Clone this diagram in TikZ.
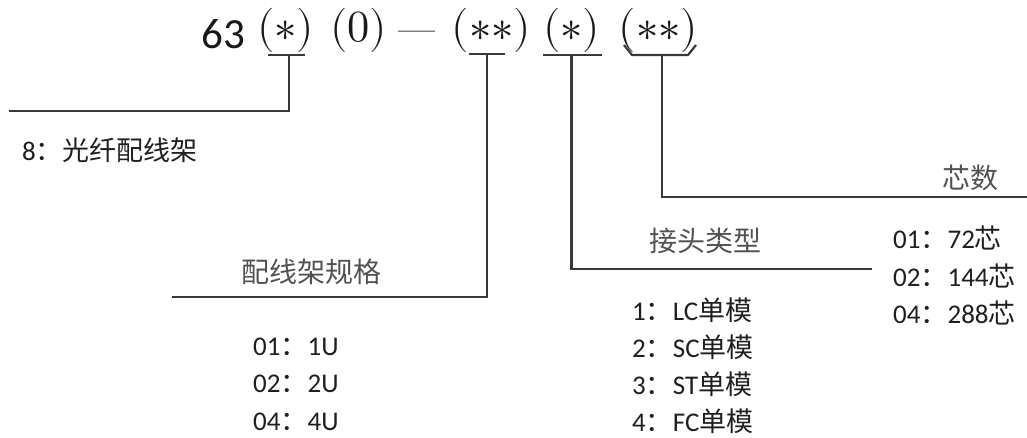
\documentclass[tikz,border=0pt]{standalone}
\usepackage[no-math]{fontspec}
\setmainfont{Carlito}
\newfontfamily\cjk{Noto Sans CJK SC}
\newfontfamily\lmm{Latin Modern Math}
\usetikzlibrary{positioning}
\newcommand{\zh}[1]{{\cjk #1}}

\begin{document}
\begin{tikzpicture}[
    x=1pt, y=-1pt,
    line/.style={draw=black!78, line width=2.2pt},
    code/.style={inner sep=0pt, font=\fontsize{44.5}{44.5}\selectfont\lmm, text=black!90},
    head/.style={inner sep=0pt, font=\fontsize{28}{30}\selectfont\cjk, text=black!68},
    opt/.style={inner sep=0pt, anchor=west, font=\fontsize{27}{30}\selectfont, text=black!88},
]
\useasboundingbox (0,0) rectangle (1027,437);

% model code
\node[code, anchor=base, font=\fontsize{43}{43}\selectfont] (num) at (223.5,48) {63};
\node[code] (p1) at (285.5,30.5) {(∗)};
\node[code] (p2) at (358.5,30.5) {(0)};
\node[code, font=\fontsize{37}{37}\selectfont\lmm] (dsh) at (416.5,36) {—};
\node[code] (p3) at (491.5,30.5) {(∗∗)};
\node[code] (p4) at (571.5,30.5) {(∗)};
\node[code] (p5) at (658.5,30.5) {(∗∗)};

% brackets under the code
\coordinate (b1a) at (268,55);
\coordinate (b1b) at (305,55);
\coordinate (b2a) at (469,54);
\coordinate (b2b) at (505,54);
\coordinate (b3a) at (543,55);
\coordinate (b3b) at (602,55);
\coordinate (b4a) at (624,45);
\coordinate (b4b) at (632,55);
\coordinate (b4c) at (688,55);
\coordinate (b4d) at (696,45);
\draw[line] (b1a) -- (b1b);
\draw[line] (b2a) -- (b2b);
\draw[line] (b3a) -- (b3b);
\draw[line] (b4a) -- (b4b) -- (b4c) -- (b4d);

% leader lines
\coordinate (t1) at (289,55);
\coordinate (k1) at (289,111);
\coordinate (e1) at (9,111);
\coordinate (t2) at (487,54);
\coordinate (k2) at (487,297);
\coordinate (e2) at (172,297);
\coordinate (t3) at (571.5,55);
\coordinate (k3) at (571.5,269);
\coordinate (e3) at (872,269);
\coordinate (t4) at (662,55);
\coordinate (k4) at (662,197);
\coordinate (e4) at (1027,197);
\draw[line] (t1) -- (k1) -- (e1);
\draw[line] (t2) -- (k2) -- (e2);
\draw[line] (t3) -- (k3) -- (e3);
\draw[line] (t4) -- (k4) -- (e4);

% type
\node[opt] (type) at (22,150) {8\zh{：光纤配线架}};

% rack size
\node[head] (size) at (311.5,272) {配线架规格};
\node[opt] (s1) at (253,346.5) {01\zh{：}1U};
\node[opt, below=37.5pt of s1.west, anchor=west] (s2) {02\zh{：}2U};
\node[opt, below=37.5pt of s2.west, anchor=west] (s3) {04\zh{：}4U};

% connector type
\node[head] (conn) at (705.5,241) {接头类型};
\node[opt] (c1) at (632,310) {1\zh{：}LC\zh{单模}};
\node[opt, below=37pt of c1.west, anchor=west] (c2) {2\zh{：}SC\zh{单模}};
\node[opt, below=37pt of c2.west, anchor=west] (c3) {3\zh{：}ST\zh{单模}};
\node[opt, below=37pt of c3.west, anchor=west] (c4) {4\zh{：}FC\zh{单模}};

% fibre count
\node[head] (core) at (970,178) {芯数};
\node[opt] (n1) at (893,238) {01\zh{：}72\zh{芯}};
\node[opt, below=37.5pt of n1.west, anchor=west] (n2) {02\zh{：}144\zh{芯}};
\node[opt, below=37.5pt of n2.west, anchor=west] (n3) {04\zh{：}288\zh{芯}};

\end{tikzpicture}
\end{document}
